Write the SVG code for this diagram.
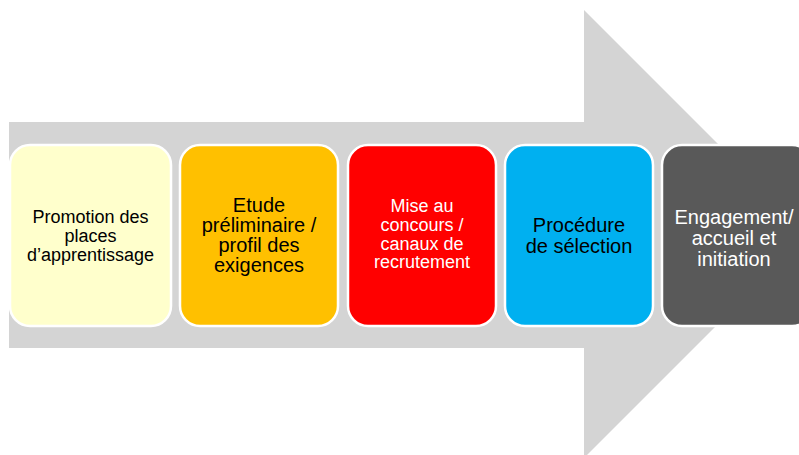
<svg xmlns="http://www.w3.org/2000/svg" width="799" height="455" viewBox="0 0 799 455">
<style>
.box{stroke:#FFFFFF;stroke-width:2.5}
.t{font-family:"Liberation Sans",Arial,sans-serif;text-anchor:middle}
.dark{fill:#000000}
.light{fill:#FFFFFF}
</style>
<rect width="799" height="455" fill="#FFFFFF"/>
<g id="arrow">
<polygon points="9,122 584,122 584,10 808,234 584,458 584,348 9,348" fill="#D4D4D4"/>
</g>
<g id="connectors"></g>
<g id="node1">
<rect class="box" x="10" y="145" width="161" height="181" rx="20" fill="#FFFFCC"/>
<text class="t dark" font-size="18"><tspan x="90.5" y="223">Promotion des</tspan><tspan x="90.5" y="242">places</tspan><tspan x="90.5" y="261">d’apprentissage</tspan></text>
</g>
<g id="node2">
<rect class="box" x="180" y="145" width="158" height="181" rx="20" fill="#FFC000"/>
<text class="t dark" font-size="20"><tspan x="259" y="212">Etude</tspan><tspan x="259" y="232">préliminaire /</tspan><tspan x="259" y="252">profil des</tspan><tspan x="259" y="272">exigences</tspan></text>
</g>
<g id="node3">
<rect class="box" x="348" y="145" width="148" height="181" rx="20" fill="#FF0000"/>
<text class="t light" font-size="18"><tspan x="422" y="212">Mise au</tspan><tspan x="422" y="231">concours /</tspan><tspan x="422" y="249.5">canaux de</tspan><tspan x="422" y="268">recrutement</tspan></text>
</g>
<g id="node4">
<rect class="box" x="505" y="145" width="148" height="181" rx="20" fill="#00B0F0"/>
<text class="t dark" font-size="20"><tspan x="579" y="232">Procédure</tspan><tspan x="579" y="253">de sélection</tspan></text>
</g>
<g id="node5">
<rect class="box" x="662" y="145" width="150" height="181" rx="20" fill="#595959"/>
<text class="t light" font-size="20"><tspan x="734" y="224">Engagement/</tspan><tspan x="734" y="245">accueil et</tspan><tspan x="734" y="266">initiation</tspan></text>
</g>
</svg>
